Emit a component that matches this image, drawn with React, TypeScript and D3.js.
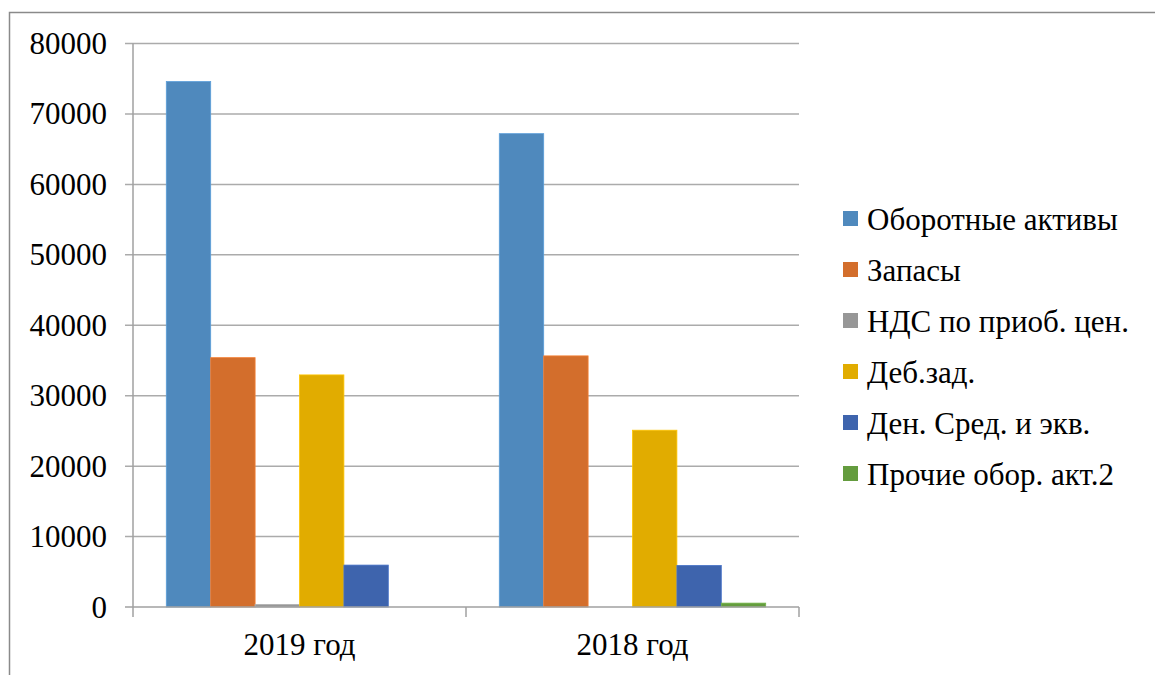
// @ts-nocheck
import React, { useEffect, useRef } from 'react';
import * as d3 from 'd3';

// categories (x axis)
const categories = ['2019 год', '2018 год'];

// series names, in legend order
const seriesNames = [
  'Оборотные активы',
  'Запасы',
  'НДС по приоб. цен.',
  'Деб.зад.',
  'Ден. Сред. и экв.',
  'Прочие обор. акт.2',
];

// values per series, [2019, 2018]
const oborotnye = [74600, 67200];
const zapasy = [35400, 35650];
const nds = [350, 0];
const debZad = [32950, 25100];
const denSred = [5950, 5900];
const prochie = [0, 550];

const seriesValues = [oborotnye, zapasy, nds, debZad, denSred, prochie];

const yTicks = [0, 10000, 20000, 30000, 40000, 50000, 60000, 70000, 80000];

const colors = ['#4f89bd', '#d36e2c', '#979797', '#e1ac00', '#3e64ad', '#649c3e'];

const App: React.FC = () => {
  const ref = useRef<SVGSVGElement | null>(null);

  useEffect(() => {
    const width = 1155;
    const height = 675;
    const margin = { top: 43.5, left: 133, right: 356, bottom: 68 };
    const plotW = width - margin.left - margin.right;
    const plotH = height - margin.top - margin.bottom;
    const font = 'Liberation Serif, Times New Roman, DejaVu Serif, serif';

    const svg = d3.select(ref.current);
    svg.selectAll('*').remove();

    // outer frame
    svg.append('path')
      .attr('d', `M9.5,${height} V12.5 H${width}`)
      .attr('fill', 'none')
      .attr('stroke', '#8a8a8a')
      .attr('stroke-width', 1.5);

    const g = svg.append('g').attr('transform', `translate(${margin.left},${margin.top})`);

    const x0 = d3.scaleBand().domain(categories).range([0, plotW]).padding(0);
    const gap = x0.bandwidth() * 0.2;
    const x1 = d3.scaleBand()
      .domain(d3.range(seriesNames.length))
      .range([gap / 2, x0.bandwidth() - gap / 2])
      .padding(0);
    const y = d3.scaleLinear().domain([0, 80000]).range([plotH, 0]);

    // gridlines
    g.selectAll('line.grid')
      .data(yTicks.filter((t) => t > 0))
      .enter()
      .append('line')
      .attr('x1', -8)
      .attr('x2', plotW)
      .attr('y1', (d) => y(d))
      .attr('y2', (d) => y(d))
      .attr('stroke', '#ababab')
      .attr('stroke-width', 1.5);

    // y tick labels
    g.selectAll('text.ylab')
      .data(yTicks)
      .enter()
      .append('text')
      .attr('x', -26)
      .attr('y', (d) => y(d))
      .attr('dy', '0.34em')
      .attr('text-anchor', 'end')
      .attr('font-family', font)
      .attr('font-size', 31)
      .attr('fill', '#000')
      .text((d) => d);

    // bars
    categories.forEach((cat, ci) => {
      seriesValues.forEach((vals, si) => {
        const v = vals[ci];
        if (!v) return;
        g.append('rect')
          .attr('x', x0(cat) + x1(si))
          .attr('y', y(v))
          .attr('width', x1.bandwidth())
          .attr('height', plotH - y(v))
          .attr('fill', colors[si])
          .attr('stroke', d3.color(colors[si]).brighter(0.4))
          .attr('stroke-width', 0.8);
      });
    });

    // axes lines
    g.append('line')
      .attr('x1', 0).attr('x2', 0)
      .attr('y1', 0).attr('y2', plotH)
      .attr('stroke', '#a0a0a0').attr('stroke-width', 1.5);
    g.append('line')
      .attr('x1', -8).attr('x2', plotW)
      .attr('y1', plotH).attr('y2', plotH)
      .attr('stroke', '#a0a0a0').attr('stroke-width', 1.5);

    // x ticks at category boundaries
    const bounds = [0, ...categories.map((c) => x0(c) + x0.bandwidth())];
    g.selectAll('line.xtick')
      .data(bounds)
      .enter()
      .append('line')
      .attr('x1', (d) => d).attr('x2', (d) => d)
      .attr('y1', plotH).attr('y2', plotH + 10)
      .attr('stroke', '#a0a0a0').attr('stroke-width', 1.5);

    // x labels
    g.selectAll('text.xlab')
      .data(categories)
      .enter()
      .append('text')
      .attr('x', (d) => x0(d) + x0.bandwidth() / 2)
      .attr('y', plotH + 48)
      .attr('text-anchor', 'middle')
      .attr('font-family', font)
      .attr('font-size', 31)
      .attr('fill', '#000')
      .text((d) => d);

    // legend
    const legend = svg.append('g').attr('transform', 'translate(843,211)');
    seriesNames.forEach((name, i) => {
      const row = legend.append('g').attr('transform', `translate(0,${i * 51})`);
      row.append('rect')
        .attr('width', 15)
        .attr('height', 15)
        .attr('fill', colors[i]);
      row.append('text')
        .attr('x', 24)
        .attr('y', 8)
        .attr('dy', '0.36em')
        .attr('font-family', font)
        .attr('font-size', 31)
        .attr('fill', '#000')
        .text(name);
    });
  }, []);

  return (
    <svg
      ref={ref}
      width={1155}
      height={675}
      style={{ position: 'absolute', left: 0, top: 0, background: '#fff' }}
    />
  );
};

export default App;
